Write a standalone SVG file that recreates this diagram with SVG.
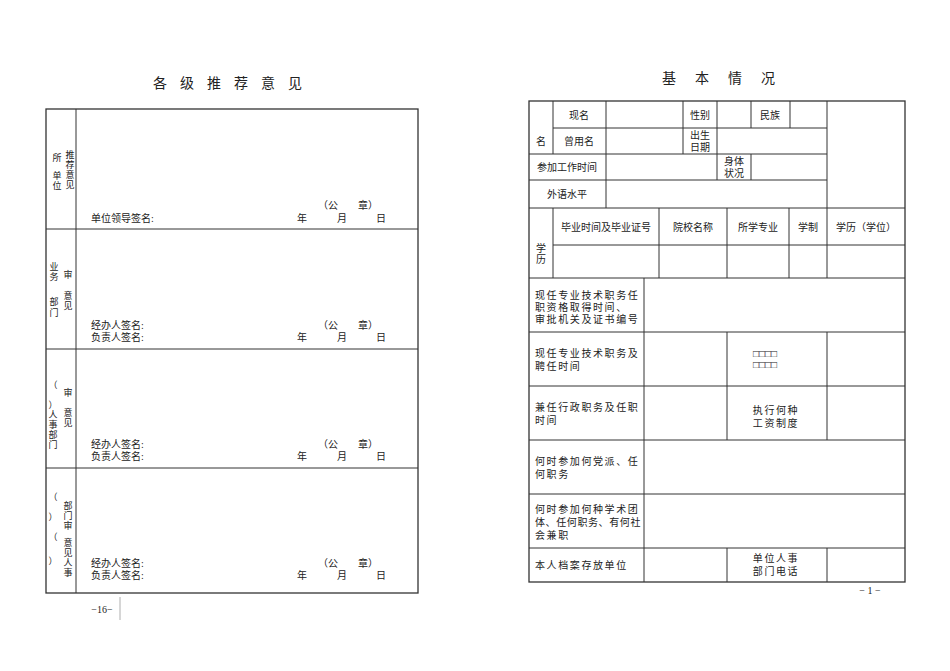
<svg xmlns="http://www.w3.org/2000/svg" width="950" height="671" viewBox="0 0 950 671">
<style>
text{font-family:"Liberation Serif","Noto Sans CJK SC",serif;font-size:10px;fill:#222}
.c{text-anchor:middle;dominant-baseline:central}
.v{font-size:9px}
.t{font-size:14px;text-anchor:middle}
.b{fill:none;stroke:#333;stroke-width:1.3}
.l{stroke:#333;stroke-width:1}
</style>
<rect width="950" height="671" fill="#fff"/>
<text class="t" x="234" y="88" letter-spacing="13">各级推荐意见</text>
<text class="t" x="728" y="83" letter-spacing="19">基本情况</text>
<g id="left-table">
<rect class="b" x="46" y="109" width="372" height="484"/>
<line class="l" x1="76" y1="109" x2="76" y2="593"/>
<line class="l" x1="46" y1="229" x2="418" y2="229"/>
<line class="l" x1="46" y1="349" x2="418" y2="349"/>
<line class="l" x1="46" y1="468" x2="418" y2="468"/>
</g>
<g id="left-row1">
<text class="c v" x="57" y="158">所</text><text class="c v" x="57" y="176">单</text><text class="c v" x="57" y="186">位</text>
<text class="c v" x="70" y="155">推</text><text class="c v" x="70" y="165">荐</text><text class="c v" x="70" y="175">意</text><text class="c v" x="70" y="185">见</text>
<text x="91" y="222">单位领导签名:</text><text x="318" y="209">（公　　章）</text>
<text x="297" y="222">年</text><text x="337" y="222">月</text><text x="376" y="222">日</text>
</g>
<g id="left-row2">
<text class="c v" x="54" y="267">业</text><text class="c v" x="54" y="277">务</text><text class="c v" x="54" y="302">部</text><text class="c v" x="54" y="313">门</text>
<text class="c v" x="68" y="275">审</text><text class="c v" x="68" y="296">意</text><text class="c v" x="68" y="306">见</text>
<text x="91" y="329">经办人签名:</text><text x="91" y="341">负责人签名:</text><text x="318" y="329">（公　　章）</text>
<text x="297" y="341">年</text><text x="337" y="341">月</text><text x="376" y="341">日</text>
</g>
<g id="left-row3">
<text class="c v" x="53" y="385">（</text><text class="c v" x="53" y="405">）</text><text class="c v" x="53" y="415">人</text><text class="c v" x="53" y="425">事</text><text class="c v" x="53" y="435">部</text><text class="c v" x="53" y="445">门</text>
<text class="c v" x="68" y="393">审</text><text class="c v" x="68" y="413">意</text><text class="c v" x="68" y="423">见</text>
<text x="91" y="448">经办人签名:</text><text x="91" y="460">负责人签名:</text><text x="318" y="448">（公　　章）</text>
<text x="297" y="460">年</text><text x="337" y="460">月</text><text x="376" y="460">日</text>
</g>
<g id="left-row4">
<text class="c v" x="53" y="497">（</text><text class="c v" x="53" y="517">）</text><text class="c v" x="53" y="537">（</text><text class="c v" x="53" y="561">）</text>
<text class="c v" x="68" y="506">部</text><text class="c v" x="68" y="516">门</text><text class="c v" x="68" y="526">审</text><text class="c v" x="68" y="543">意</text><text class="c v" x="68" y="553">见</text><text class="c v" x="68" y="563">人</text><text class="c v" x="68" y="573">事</text>
<text x="91" y="567">经办人签名:</text><text x="91" y="579">负责人签名:</text><text x="318" y="567">（公　　章）</text>
<text x="297" y="579">年</text><text x="337" y="579">月</text><text x="376" y="579">日</text>
</g>
<text x="102" y="613" text-anchor="middle">−16−</text>
<line x1="120" y1="597" x2="120" y2="620" stroke="#999" stroke-width="0.8"/>
<g id="right-table">
<rect class="b" x="529" y="101" width="376" height="481"/>
<line class="l" x1="553" y1="128" x2="827" y2="128"/>
<line class="l" x1="529" y1="154" x2="827" y2="154"/>
<line class="l" x1="529" y1="180" x2="827" y2="180"/>
<line class="l" x1="529" y1="208" x2="905" y2="208"/>
<line class="l" x1="553" y1="245" x2="905" y2="245"/>
<line class="l" x1="529" y1="278" x2="905" y2="278"/>
<line class="l" x1="529" y1="332" x2="905" y2="332"/>
<line class="l" x1="529" y1="386" x2="905" y2="386"/>
<line class="l" x1="529" y1="440" x2="905" y2="440"/>
<line class="l" x1="529" y1="494" x2="905" y2="494"/>
<line class="l" x1="529" y1="548" x2="905" y2="548"/>
<line class="l" x1="553" y1="101" x2="553" y2="154"/>
<line class="l" x1="606" y1="101" x2="606" y2="208"/>
<line class="l" x1="683" y1="101" x2="683" y2="154"/>
<line class="l" x1="717" y1="101" x2="717" y2="180"/>
<line class="l" x1="751" y1="101" x2="751" y2="128"/>
<line class="l" x1="751" y1="154" x2="751" y2="180"/>
<line class="l" x1="790" y1="101" x2="790" y2="128"/>
<line class="l" x1="827" y1="101" x2="827" y2="278"/>
<line class="l" x1="553" y1="208" x2="553" y2="278"/>
<line class="l" x1="659" y1="208" x2="659" y2="278"/>
<line class="l" x1="727" y1="208" x2="727" y2="278"/>
<line class="l" x1="789" y1="208" x2="789" y2="278"/>
<line class="l" x1="644" y1="278" x2="644" y2="582"/>
<line class="l" x1="727" y1="332" x2="727" y2="440"/>
<line class="l" x1="827" y1="332" x2="827" y2="440"/>
<line class="l" x1="727" y1="548" x2="727" y2="582"/>
<line class="l" x1="827" y1="548" x2="827" y2="582"/>
</g>
<g id="right-text">
<text class="c" x="541" y="141">名</text>
<text class="c" x="579" y="115">现名</text><text class="c" x="700" y="115">性别</text><text class="c" x="770" y="115">民族</text>
<text class="c" x="579" y="141">曾用名</text><text class="c" x="700" y="135">出生</text><text class="c" x="700" y="147">日期</text>
<text class="c" x="567" y="167">参加工作时间</text><text class="c" x="734" y="161">身体</text><text class="c" x="734" y="173">状况</text>
<text class="c" x="567" y="194">外语水平</text>
<text class="c" x="606" y="227">毕业时间及毕业证号</text><text class="c" x="693" y="227">院校名称</text><text class="c" x="758" y="227">所学专业</text><text class="c" x="808" y="227">学制</text><text class="c" x="866" y="227">学历（学位）</text>
<text class="c" x="541" y="248">学</text><text class="c" x="541" y="259">历</text>
<g letter-spacing="1.6">
<text x="535" y="299">现任专业技术职务任</text><text x="535" y="311">职资格取得时间、</text><text x="535" y="323">审批机关及证书编号</text>
<text x="535" y="357">现任专业技术职务及</text><text x="535" y="370">聘任时间</text>
<text x="535" y="411">兼任行政职务及任职</text><text x="535" y="424">时间</text>
<text x="535" y="465">何时参加何党派、任</text><text x="535" y="478">何职务</text>
<text x="535" y="513">何时参加何种学术团</text><text x="535" y="526" letter-spacing="0.6">体、任何职务、有何社</text><text x="535" y="539">会兼职</text>
<text x="535" y="569">本人档案存放单位</text>
<text class="c" x="776" y="410">执行何种</text><text class="c" x="776" y="423">工资制度</text>
<text class="c" x="776" y="558">单位人事</text><text class="c" x="776" y="571">部门电话</text>
</g>
<text class="c" x="765" y="353" font-size="8">□□□□</text><text class="c" x="765" y="364" font-size="8">□□□□</text>
</g>
<text x="870" y="594" text-anchor="middle">− 1 −</text>
</svg>
